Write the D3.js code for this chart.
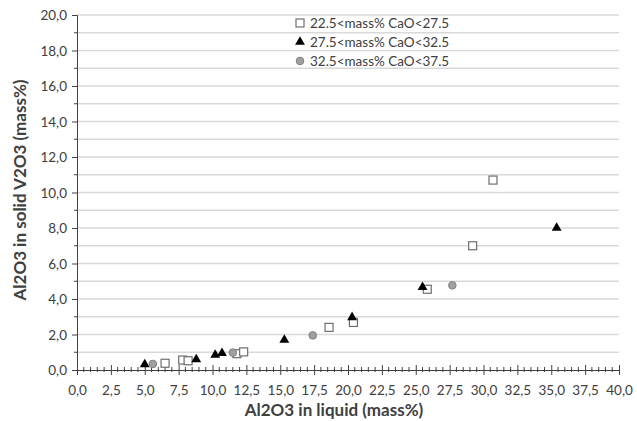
<!DOCTYPE html>
<html>
<head>
<meta charset="utf-8">
<script src="https://cdn.jsdelivr.net/npm/d3@7"></script>
<style>
body{margin:0;background:#fff;}
svg{display:block;}
text{font-family:Lato,"Open Sans",sans-serif;fill:#404040;}
</style>
</head>
<body>
<svg id="chart" width="637" height="421"></svg>
<script>
// Series data (x = Al2O3 in liquid, y = Al2O3 in solid V2O3)
const seriesNames = ["22.5<mass% CaO<27.5", "27.5<mass% CaO<32.5", "32.5<mass% CaO<37.5"];
const squareX = [6.5, 7.8, 8.2, 11.8, 12.3, 18.6, 20.4, 25.85, 29.2, 30.7];
const squareY = [0.38, 0.56, 0.52, 0.92, 1.02, 2.4, 2.68, 4.55, 7.0, 10.7];
const triX = [5.0, 8.8, 10.2, 10.7, 15.3, 20.3, 25.5, 35.4];
const triY = [0.32, 0.6, 0.85, 0.95, 1.7, 2.97, 4.67, 8.0];
const circX = [5.6, 11.5, 17.4, 27.7];
const circY = [0.34, 0.98, 1.95, 4.77];
const xTicks = d3.range(0, 40.01, 2.5);
const yTicks = d3.range(0, 20.01, 2);
const xTitle = "Al2O3 in liquid (mass%)";
const yTitle = "Al2O3 in solid V2O3 (mass%)";

const svg = d3.select("#chart");
const x = d3.scaleLinear().domain([0, 40]).range([77, 619]);
const y = d3.scaleLinear().domain([0, 20]).range([370, 15]);
const fmt = v => d3.format(".1f")(v).replace(".", ",");

// gridlines every 1.0
svg.append("g").selectAll("line").data(d3.range(1, 20.01, 1)).join("line")
  .attr("x1", x(0)).attr("x2", x(40))
  .attr("y1", d => y(d)).attr("y2", d => y(d))
  .attr("stroke", "#d9d9d9").attr("stroke-width", 1.5);

// y axis
const yAxis = svg.append("g").attr("transform", `translate(${x(0)},0)`)
  .call(d3.axisLeft(y).tickValues(yTicks).tickFormat(fmt).tickSize(5).tickPadding(5));
yAxis.select(".domain").attr("stroke", "#404040");
yAxis.selectAll(".tick line").attr("stroke", "#404040");
yAxis.selectAll("text").style("font-size", "13.5px").attr("fill", "#404040").attr("dy", "0.35em");
// y minor ticks
svg.append("g").selectAll("line").data(d3.range(1, 20, 2)).join("line")
  .attr("x1", x(0) - 3).attr("x2", x(0))
  .attr("y1", d => y(d)).attr("y2", d => y(d)).attr("stroke", "#404040");

// x axis
const xAxis = svg.append("g").attr("transform", `translate(0,${y(0)})`)
  .call(d3.axisBottom(x).tickValues(xTicks).tickFormat(fmt).tickSize(5).tickPadding(10));
xAxis.select(".domain").attr("stroke", "#404040");
xAxis.selectAll(".tick line").attr("stroke", "#404040").attr("y1", -5);
xAxis.selectAll("text").style("font-size", "13.5px").attr("fill", "#404040");
// x minor ticks
svg.append("g").selectAll("line").data(d3.range(0.5, 40, 0.5).filter(v => Math.abs(v / 2.5 - Math.round(v / 2.5)) > 1e-6)).join("line")
  .attr("x1", d => x(d)).attr("x2", d => x(d))
  .attr("y1", y(0) - 3).attr("y2", y(0) + 2).attr("stroke", "#404040");

// titles
svg.append("text").attr("x", 334).attr("y", 416).attr("text-anchor", "middle")
  .style("font-size", "17px").style("font-weight", "bold").attr("fill", "#262626").text(xTitle);
svg.append("text").attr("transform", `translate(26,190) rotate(-90)`).attr("text-anchor", "middle")
  .style("font-size", "17px").style("font-weight", "bold").attr("fill", "#262626").text(yTitle);

// markers
const sq = svg.append("g");
function drawSquares(g, xs, ys) {
  g.selectAll("rect").data(xs.map((v, i) => [v, ys[i]])).join("rect")
    .attr("x", d => x(d[0]) - 4).attr("y", d => y(d[1]) - 4)
    .attr("width", 8).attr("height", 8)
    .attr("fill", "#fff").attr("stroke", "#6e6e6e").attr("stroke-width", 1.2);
}
const triPath = d3.symbol().type(d3.symbolTriangle).size(42);
function drawTris(g, xs, ys) {
  g.selectAll("path").data(xs.map((v, i) => [v, ys[i]])).join("path")
    .attr("d", triPath).attr("transform", d => `translate(${x(d[0])},${y(d[1])})`)
    .attr("fill", "#000");
}
function drawCircs(g, xs, ys) {
  g.selectAll("circle").data(xs.map((v, i) => [v, ys[i]])).join("circle")
    .attr("cx", d => x(d[0])).attr("cy", d => y(d[1])).attr("r", 3.8)
    .attr("fill", "#a0a0a0").attr("stroke", "#808080").attr("stroke-width", 1);
}
drawSquares(sq, squareX, squareY);
drawTris(svg.append("g"), triX, triY);
drawCircs(svg.append("g"), circX, circY);

// legend (transparent background)
const leg = svg.append("g");
const ly = [23, 42, 61];
leg.append("rect").attr("x", 296).attr("y", ly[0] - 4).attr("width", 8).attr("height", 8)
  .attr("fill", "#fff").attr("stroke", "#6e6e6e").attr("stroke-width", 1.2);
leg.append("path").attr("d", triPath).attr("transform", `translate(300,${ly[1]})`).attr("fill", "#000");
leg.append("circle").attr("cx", 300).attr("cy", ly[2]).attr("r", 3.8)
  .attr("fill", "#a0a0a0").attr("stroke", "#808080");
leg.selectAll("text.l").data(seriesNames).join("text").attr("class", "l")
  .attr("x", 310).attr("y", (d, i) => ly[i]).attr("dy", "0.35em")
  .style("font-size", "13.5px").attr("fill", "#262626").text(d => d);
</script>
</body>
</html>
